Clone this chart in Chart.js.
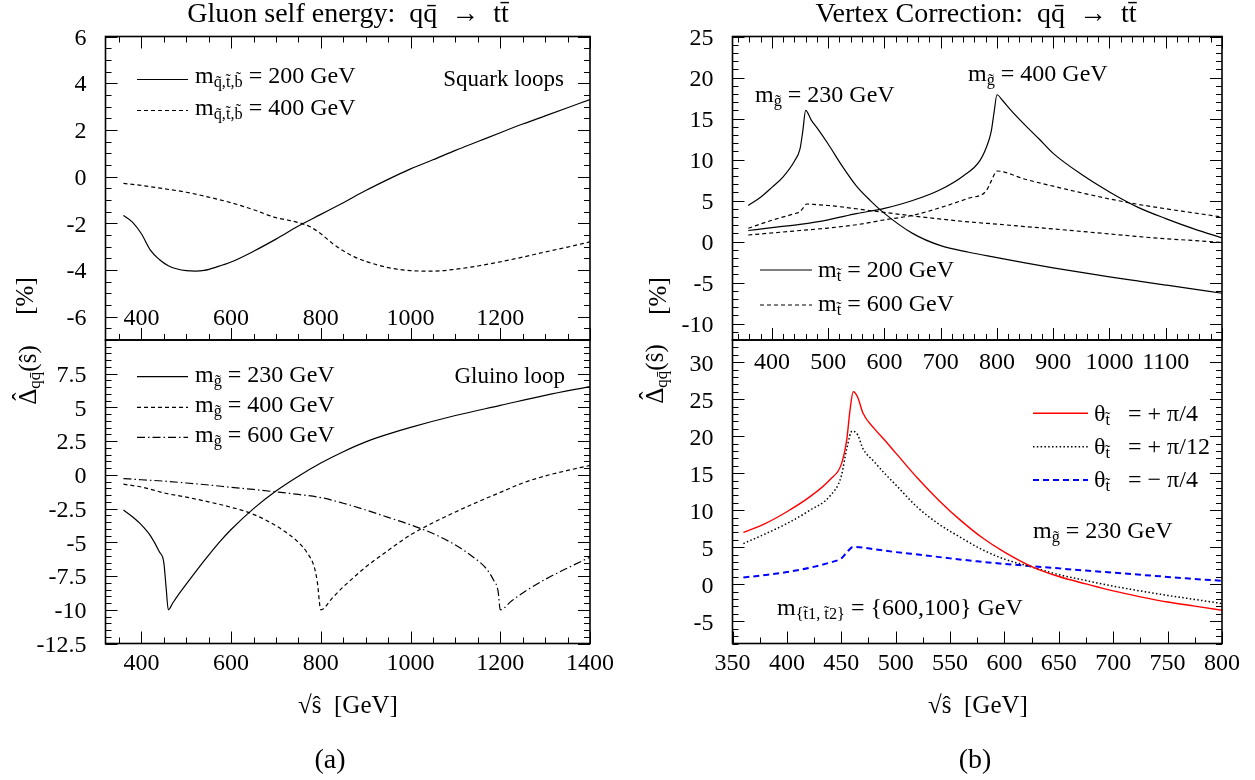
<!DOCTYPE html>
<html><head><meta charset="utf-8">
<script src="https://cdn.jsdelivr.net/npm/chart.js@4.4.1/dist/chart.umd.min.js"></script>
<style>
html,body{margin:0;padding:0;background:#fff;}
body{width:1255px;height:780px;position:relative;overflow:hidden;font-family:"Liberation Serif","Times New Roman",serif;color:#000;}
canvas{position:absolute;left:0;top:0;}
.t{position:absolute;white-space:nowrap;font-size:22px;line-height:1;z-index:5;}
.t sub{font-size:0.68em;vertical-align:-0.25em;line-height:0;}
.rot{position:absolute;white-space:nowrap;font-size:25px;line-height:1;transform:translate(-50%,-50%) rotate(-90deg);z-index:5;}
.rot sub{font-size:0.68em;vertical-align:-0.25em;line-height:0;}
.hat{position:relative;display:inline-block;}
.hat span{position:absolute;left:0;right:0;text-align:center;top:-0.24em;}
svg{position:absolute;left:0;top:0;z-index:4;}
</style></head><body>
<canvas id="cA1" width="1255" height="780"></canvas>
<canvas id="cA2" width="1255" height="780"></canvas>
<canvas id="cB1" width="1255" height="780"></canvas>
<canvas id="cB2" width="1255" height="780"></canvas>
<svg id="leg" width="1255" height="780"></svg>
<div id="texts"></div>
<script>
// ---------------- DATA ----------------
// Panel (a) top: squark loops
const sq200X = [360,380,400,420,440,460,480,500,520,540,570,600,650,700,750,800,850,900,950,1000,1050,1100,1150,1200,1250,1300,1350,1400];
const sq200Y = [-1.67,-1.95,-2.45,-3.15,-3.55,-3.82,-3.96,-4.03,-4.05,-4.02,-3.86,-3.66,-3.2,-2.68,-2.12,-1.62,-1.12,-0.6,-0.12,0.33,0.72,1.12,1.5,1.88,2.25,2.6,2.95,3.3];
const sq400X = [360,400,450,500,550,600,650,700,725,750,775,800,825,850,875,900,950,1000,1050,1100,1150,1200,1250,1300,1350,1400];
const sq400Y = [-0.29,-0.38,-0.52,-0.67,-0.88,-1.12,-1.42,-1.76,-1.86,-1.97,-2.14,-2.45,-2.85,-3.18,-3.44,-3.63,-3.9,-4.03,-4.05,-3.97,-3.83,-3.65,-3.45,-3.23,-3.02,-2.8];
// Panel (a) bottom: gluino loop
const gl230X = [360,380,400,420,440,450,455,460,470,480,500,525,550,575,600,650,700,750,800,850,900,950,1000,1100,1200,1300,1400];
const gl230Y = [-2.6,-3.1,-3.7,-4.5,-5.7,-6.5,-8.3,-10.0,-9.5,-9.0,-8.1,-7.0,-5.95,-4.95,-4.05,-2.5,-1.2,-0.1,0.88,1.72,2.45,3.02,3.52,4.4,5.15,5.9,6.55];
const gl400X = [360,400,456,500,550,600,640,680,720,750,770,785,792,800,825,850,875,900,950,1000,1050,1100,1150,1200,1250,1300,1350,1400];
const gl400Y = [-0.69,-0.9,-1.38,-1.65,-2.0,-2.4,-2.8,-3.4,-4.2,-5.0,-5.8,-6.8,-7.9,-10.0,-9.15,-8.3,-7.55,-6.83,-5.6,-4.45,-3.55,-2.75,-2.0,-1.3,-0.6,-0.08,0.33,0.7];
const gl600X = [360,400,450,500,550,600,650,700,750,800,850,900,950,1000,1050,1100,1140,1170,1185,1195,1200,1225,1250,1300,1350,1400];
const gl600Y = [-0.27,-0.36,-0.46,-0.6,-0.75,-0.92,-1.08,-1.26,-1.45,-1.68,-2.1,-2.6,-3.15,-3.7,-4.35,-5.2,-6.1,-7.0,-7.8,-8.6,-10.0,-9.35,-8.75,-7.75,-6.9,-6.1];
// Panel (b) top: vertex correction
const v230sX = [358,380,400,420,440,450,455,460,470,480,500,525,550,575,600,650,700,750,800,850,900,950,1000,1050,1100,1150,1200];
const v230sY = [4.4,5.4,6.6,7.9,9.8,11.3,13.5,16.0,14.8,13.9,11.9,9.2,6.8,5.0,3.44,1.0,-0.5,-1.3,-1.95,-2.6,-3.2,-3.75,-4.3,-4.8,-5.3,-5.8,-6.3];
const v400sX = [358,400,450,500,550,600,650,700,740,770,785,790,795,800,810,825,850,875,900,950,1000,1050,1100,1150,1200];
const v400sY = [1.35,1.7,2.1,2.65,3.4,4.05,5.0,6.35,8.0,9.9,12.2,13.5,15.8,17.9,17.2,16.0,14.2,12.5,10.75,8.2,6.05,4.2,2.8,1.55,0.45];
const v230dX = [358,400,440,450,455,462,480,500,550,600,650,700,750,800,850,900,950,1000,1050,1100,1150,1200];
const v230dY = [1.62,2.6,3.4,3.65,4.05,4.58,4.5,4.4,4.0,3.55,3.13,2.74,2.4,2.12,1.83,1.54,1.24,0.93,0.62,0.34,0.13,-0.1];
const v400dX = [358,400,450,500,550,600,650,700,750,780,790,797,800,850,900,950,1000,1050,1100,1150,1200];
const v400dY = [0.8,1.05,1.35,1.65,2.05,2.65,3.2,4.15,5.3,6.1,7.4,8.4,8.6,7.6,6.75,5.95,5.2,4.55,4.0,3.5,3.0];
// Panel (b) bottom: stop mixing angle
const redX = [360,380,400,420,440,450,455,458,461,465,470,480,490,500,520,540,560,580,600,625,650,675,700,725,750,775,800];
const redY = [7.0,8.2,9.8,11.7,14.2,16.2,19.5,23.5,26.0,25.3,23.1,21.1,19.45,17.75,14.35,11.3,8.6,6.25,4.35,2.4,1.05,0.05,-0.9,-1.7,-2.4,-2.95,-3.5];
const dotX = [360,380,400,420,440,450,455,460,465,470,480,490,500,520,540,560,580,600,625,650,675,700,725,750,775,800];
const dotY = [5.5,6.8,8.2,9.9,12.0,14.6,18.3,20.7,20.2,18.3,16.6,14.95,13.45,10.4,8.1,6.3,4.65,3.4,2.34,1.3,0.5,-0.25,-0.9,-1.5,-2.05,-2.6];
const bluX = [360,380,400,420,440,450,455,461,480,500,525,550,575,600,625,650,675,700,725,750,775,800];
const bluY = [0.92,1.25,1.65,2.2,2.95,3.5,4.3,5.05,4.75,4.35,3.95,3.5,3.1,2.75,2.45,2.15,1.85,1.58,1.28,1.0,0.72,0.46];

// tick labels
const xTicksA1 = [400,600,800,1000,1200];
const xTicksA2 = [400,600,800,1000,1200,1400];
const yTicksA1 = [-6,-4,-2,0,2,4,6];
const yTicksA2 = [-12.5,-10,-7.5,-5,-2.5,0,2.5,5,7.5];
const xTicksB1 = [400,500,600,700,800,900,1000,1100];
const yTicksB1 = [-10,-5,0,5,10,15,20,25];
const xTicksB2 = [350,400,450,500,550,600,650,700,750,800];
const yTicksB2 = [-5,0,5,10,15,20,25,30];

// ---------------- HELPERS ----------------
Chart.defaults.font.family = "'Liberation Serif','Times New Roman',serif";
Chart.defaults.font.size = 24;
Chart.defaults.color = '#000';

function pts(xs, ys){ return xs.map((x,i)=>({x:x, y:ys[i]})); }
function steps(a, b, s){ const r=[]; for(let v=a; v<=b+1e-9; v+=s) r.push(+v.toFixed(4)); return r; }

const frameTicks = {
  id: 'frameTicks',
  afterDatasetsDraw(chart, args, o) {
    const ctx = chart.ctx, a = chart.chartArea, x = chart.scales.x, y = chart.scales.y;
    ctx.save();
    ctx.strokeStyle = '#000';
    ctx.lineWidth = 1;
    ctx.beginPath();
    const xt = (vals, len) => vals.forEach(v => {
      if (v < x.min - 1e-9 || v > x.max + 1e-9) return;
      const p = Math.round(x.getPixelForValue(v)) + 0.5;
      ctx.moveTo(p, a.bottom); ctx.lineTo(p, a.bottom - len);
      if (o.topTicks) { ctx.moveTo(p, a.top); ctx.lineTo(p, a.top + len); }
    });
    const yt = (vals, len) => vals.forEach(v => {
      if (v < y.min - 1e-9 || v > y.max + 1e-9) return;
      const p = Math.round(y.getPixelForValue(v)) + 0.5;
      ctx.moveTo(a.left, p); ctx.lineTo(a.left + len, p);
      ctx.moveTo(a.right, p); ctx.lineTo(a.right - len, p);
    });
    xt(steps(o.xMajor[0], o.xMajor[1], o.xMajor[2]), 12);
    xt(steps(o.xMinor[0], o.xMinor[1], o.xMinor[2]), 6);
    yt(steps(o.yMajor[0], o.yMajor[1], o.yMajor[2]), 12);
    yt(steps(o.yMinor[0], o.yMinor[1], o.yMinor[2]), 6);
    ctx.stroke();
    ctx.lineWidth = 1.6;
    ctx.strokeRect(a.left, a.top, a.right - a.left, a.bottom - a.top);
    ctx.restore();
  }
};

function build(id, area, xr, yr, xLabels, yLabels, xPad, xMirror, datasets, tickOpts) {
  const W = 1255, H = 780, WY = 90, HX = 50;
  return new Chart(document.getElementById(id), {
    type: 'line',
    data: { datasets: datasets },
    options: {
      responsive: false, animation: false, devicePixelRatio: 1,
      events: [],
      layout: { padding: { left: area.l - WY, top: area.t, right: W - area.r, bottom: H - area.b - HX } },
      plugins: { legend: { display: false }, tooltip: { enabled: false }, frameTicks: tickOpts },
      elements: { point: { radius: 0 }, line: { borderWidth: 1.2, cubicInterpolationMode: 'monotone' } },
      scales: {
        x: { type: 'linear', min: xr[0], max: xr[1],
             grid: { display: false, drawTicks: false }, border: { display: false },
             ticks: { padding: xPad, mirror: xMirror, callback: v => String(v), maxRotation: 0, autoSkip: false },
             afterBuildTicks: s => { s.ticks = xLabels.map(v => ({ value: v })); },
             afterFit: s => { s.height = HX; s.paddingLeft = 0; s.paddingRight = 0; } },
        y: { type: 'linear', min: yr[0], max: yr[1],
             grid: { display: false, drawTicks: false }, border: { display: false },
             ticks: { padding: 19, labelOffset: 2, callback: v => String(v), autoSkip: false },
             afterBuildTicks: s => { s.ticks = yLabels.map(v => ({ value: v })); },
             afterFit: s => { s.width = WY; s.paddingTop = 0; s.paddingBottom = 0; } }
      }
    },
    plugins: [frameTicks]
  });
}

function ds(xs, ys, style) {
  return Object.assign({ data: pts(xs, ys), borderColor: '#000', borderWidth: 1.2, fill: false }, style);
}
const DASH = [4, 3], DASHDOT = [8, 3, 1.5, 3];

// ---------------- CHARTS ----------------
build('cA1', { l: 105.5, t: 36.5, r: 590, b: 340 }, [320, 1400], [-7, 6], xTicksA1, yTicksA1, 7, true, [
  ds(sq200X, sq200Y, {}),
  ds(sq400X, sq400Y, { borderDash: DASH })
], { xMajor: [400, 1400, 200], xMinor: [350, 1400, 50], yMajor: [-6, 6, 2], yMinor: [-7, 6, 0.5], topTicks: true });

build('cA2', { l: 105.5, t: 340, r: 590, b: 643.5 }, [320, 1400], [-12.5, 10], xTicksA2, yTicksA2, 6, false, [
  ds(gl230X, gl230Y, {}),
  ds(gl400X, gl400Y, { borderDash: DASH }),
  ds(gl600X, gl600Y, { borderDash: DASHDOT })
], { xMajor: [400, 1400, 200], xMinor: [350, 1400, 50], yMajor: [-12.5, 10, 2.5], yMinor: [-12.5, 10, 0.5], topTicks: false });

build('cB1', { l: 732.5, t: 36.5, r: 1222, b: 340 }, [330, 1200], [-12, 25], xTicksB1, yTicksB1, 8.5, false, [
  ds(v230sX, v230sY, {}),
  ds(v400sX, v400sY, {}),
  ds(v230dX, v230dY, { borderDash: DASH }),
  ds(v400dX, v400dY, { borderDash: DASH })
], { xMajor: [400, 1200, 100], xMinor: [340, 1200, 20], yMajor: [-10, 25, 5], yMinor: [-12, 25, 1], topTicks: true });

build('cB2', { l: 732.5, t: 340, r: 1222, b: 643.5 }, [350, 800], [-8, 33], xTicksB2, yTicksB2, 6, false, [
  ds(redX, redY, { borderColor: '#ff0000', borderWidth: 1.4 }),
  ds(dotX, dotY, { borderDash: [1.5, 2.3], borderWidth: 1.5 }),
  ds(bluX, bluY, { borderColor: '#0000ff', borderDash: [6, 4], borderWidth: 2 })
], { xMajor: [350, 800, 50], xMinor: [375, 800, 25], yMajor: [-5, 30, 5], yMinor: [-8, 33, 1], topTicks: false });

// ---------------- LEGEND SAMPLES ----------------
const legLines = [
  [137, 188, 79.5, '#000', 1.2, ''], [137, 188, 110.5, '#000', 1.2, '4 3'],
  [137, 188, 376.7, '#000', 1.2, ''], [137, 188, 407.3, '#000', 1.2, '4 3'], [137, 188, 437.3, '#000', 1.2, '8 3 1.5 3'],
  [760, 812, 270, '#000', 1.2, ''], [760, 812, 305, '#000', 1.2, '4 3'],
  [1033, 1088, 413.3, '#ff0000', 1.4, ''], [1033, 1088, 446.7, '#000', 1.5, '1.5 2.3'], [1033, 1088, 480, '#0000ff', 2, '6 4']
];
const svg = document.getElementById('leg');
legLines.forEach(l => {
  const e = document.createElementNS('http://www.w3.org/2000/svg', 'line');
  e.setAttribute('x1', l[0]); e.setAttribute('x2', l[1]); e.setAttribute('y1', l[2]); e.setAttribute('y2', l[2]);
  e.setAttribute('stroke', l[3]); e.setAttribute('stroke-width', l[4]);
  if (l[5]) e.setAttribute('stroke-dasharray', l[5]);
  svg.appendChild(e);
});

// ---------------- TEXT ----------------
const SP = '&ensp;';
const texts = [
  ['Gluon self energy:' + SP + 'qq\u0304' + SP + '\u2192' + SP + 'tt\u0304', 348, 22, 'c', 28],
  ['Vertex Correction:' + SP + 'qq\u0304' + SP + '\u2192' + SP + 'tt\u0304', 976, 22, 'c', 28],
  ['\u221As\u0302' + SP + '[GeV]', 348, 713, 'c', 25],
  ['\u221As\u0302' + SP + '[GeV]', 978, 713, 'c', 25],
  ['(a)', 330, 768, 'c', 28],
  ['(b)', 975, 768, 'c', 28],
  ['m<sub>q\u0303,t\u0303,b\u0303</sub> = 200 GeV', 195, 83, 'l', 24],
  ['m<sub>q\u0303,t\u0303,b\u0303</sub> = 400 GeV', 195, 115, 'l', 24],
  ['Squark loops', 564, 86, 'r', 23],
  ['m<sub>g\u0303</sub> = 230 GeV', 195, 382, 'l', 24],
  ['m<sub>g\u0303</sub> = 400 GeV', 195, 412, 'l', 24],
  ['m<sub>g\u0303</sub> = 600 GeV', 195, 442, 'l', 24],
  ['Gluino loop', 565, 383, 'r', 23],
  ['m<sub>g\u0303</sub> = 230 GeV', 755, 102, 'l', 24],
  ['m<sub>g\u0303</sub> = 400 GeV', 968, 81, 'l', 24],
  ['m<sub>t\u0303</sub> = 200 GeV', 818, 277, 'l', 24],
  ['m<sub>t\u0303</sub> = 600 GeV', 818, 311, 'l', 24],
  ['\u03B8<sub>t\u0303</sub>&ensp; = + \u03C0/4', 1094, 421, 'l', 24],
  ['\u03B8<sub>t\u0303</sub>&ensp; = + \u03C0/12', 1094, 454, 'l', 24],
  ['\u03B8<sub>t\u0303</sub>&ensp; = \u2212 \u03C0/4', 1094, 487, 'l', 24],
  ['m<sub>g\u0303</sub> = 230 GeV', 1033, 538, 'l', 24],
  ['m<sub>{t\u03031, t\u03032}</sub> = {600,100} GeV', 777, 615, 'l', 24]
];
const holder = document.getElementById('texts');
texts.forEach(t => {
  const d = document.createElement('div');
  d.className = 't';
  d.innerHTML = t[0];
  d.style.fontSize = t[4] + 'px';
  d.style.top = (t[2] - 0.838 * t[4]) + 'px';
  d.style.left = t[1] + 'px';
  if (t[3] === 'c') d.style.transform = 'translateX(-50%)';
  else if (t[3] === 'r') d.style.transform = 'translateX(-100%)';
  holder.appendChild(d);
});
const DHAT = '<span class="hat">\u0394<span>\u02C6</span></span><sub>qq\u0304</sub>(s\u0302)';
const rots = [
  ['[%]', 24, 296], [DHAT, 27, 375],
  ['[%]', 657, 296], [DHAT, 654, 374]
];
rots.forEach(r => {
  const d = document.createElement('div');
  d.className = 'rot';
  d.innerHTML = r[0];
  d.style.left = r[1] + 'px'; d.style.top = r[2] + 'px';
  holder.appendChild(d);
});
</script>
</body></html>
